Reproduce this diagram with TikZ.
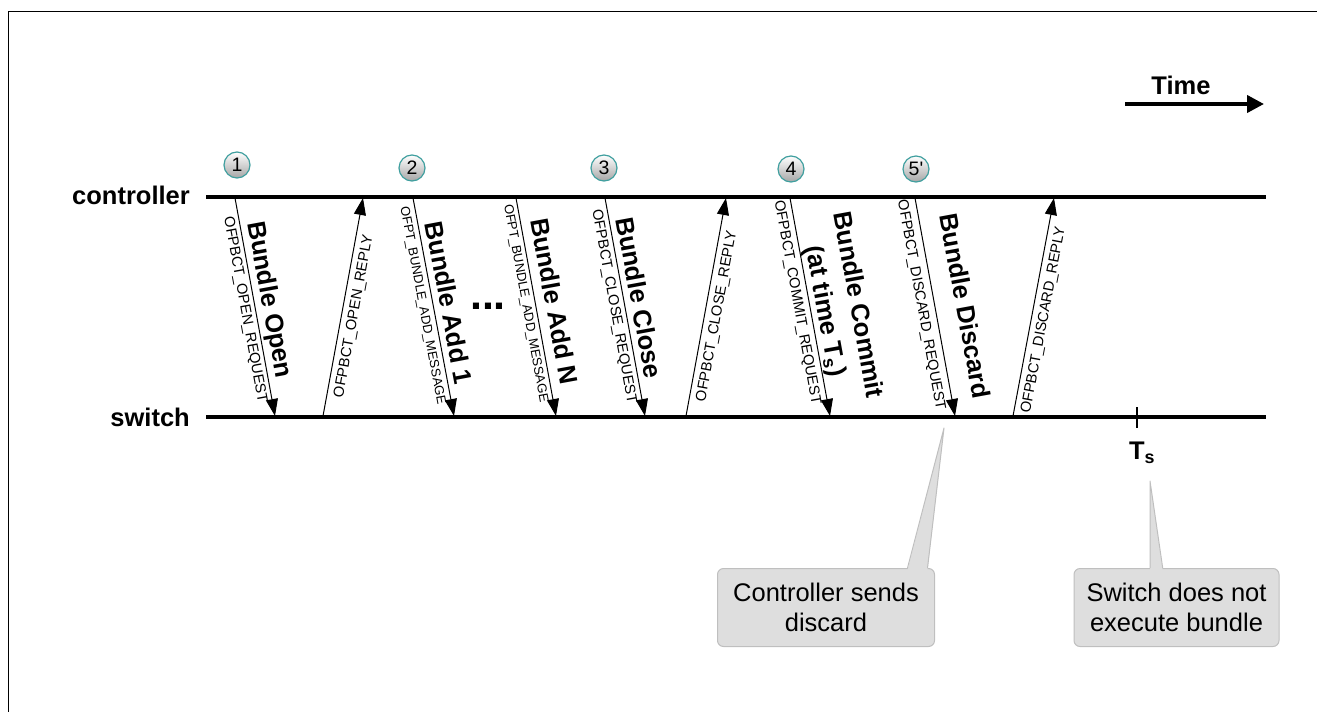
\documentclass[tikz,border=0pt]{standalone}
\usepackage{fontspec}
\setmainfont{Liberation Sans}
\usepackage{tikz}
\usetikzlibrary{
  arrows.meta,
  positioning
}

\begin{document}
\begin{tikzpicture}[
      x=1pt,y=-1pt,
      point/.style={coordinate},
      lifeline/.style={line width=4pt},
      party/.style={
         inner sep=0pt,
         font=\bfseries\fontsize{25.5}{30}\selectfont
      },
      step ball/.style={
         circle,
         minimum size=26pt,
         inner sep=0pt,
         line width=1.2pt,
         draw=teal!75!white,
         top color=white,
         bottom color=black!35,
         font=\fontsize{19.5}{20}\selectfont
      },
      >={Triangle[length=17pt,width=12pt]},
      tip/.style={->,line width=1pt},
      msg/.style={
         sloped,
         inner sep=1pt,
         font=\fontsize{14.7}{16}\selectfont
      },
      long msg/.style={
         msg,
         font=\fontsize{13}{15}\selectfont
      },
      big msg/.style={
         sloped,
         inner sep=1pt,
         text height=18pt,
         text depth=5pt,
         font=\bfseries\fontsize{25.5}{30}\selectfont
      },
      big block/.style={
         sloped,
         inner sep=1pt,
         align=center,
         font=\bfseries\fontsize{25.5}{33}\selectfont
      },
      callout/.style={
         rounded corners=6pt,
         fill=black!13,
         draw=black!25,
         line width=1pt,
         align=center,
         minimum height=78pt,
         font=\fontsize{25.5}{30}\selectfont
      },
      pointer fill/.style={fill=black!13},
      pointer line/.style={draw=black!25,line width=1pt,line join=round}
    ]
    \useasboundingbox (0,0) rectangle (1317,712);
    \draw[line width=1.2pt] (8.5,712) -- (8.5,11.5) -- (1317,11.5);

    % lifelines
    \node (c0) [point] at (206,197) {};
    \node (c10) [point] at (1266,197) {};
    \node (s0) [point] at (206,417) {};
    \node (s10) [point] at (1266,417) {};
    \draw[lifeline] (c0) -- (c10);
    \draw[lifeline] (s0) -- (s10);
    \node (ctrl) [party, left=16pt of c0, yshift=2pt] {controller};
    \node (sw) [party, left=16pt of s0] {switch};

    % time arrow
    \node (t0) [point] at (1125,104) {};
    \node (t1) [point] at (1264,104) {};
    \draw[line width=4pt, -{Triangle[length=17pt,width=17pt]}] (t0) -- (t1);
    \node (time) [party] at (1181,85) {Time};

    % steps
    \node (b1) [step ball] at (237,165) {1};
    \node (b2) [step ball] at (412,168) {2};
    \node (b3) [step ball] at (604,168) {3};
    \node (b4) [step ball] at (791,169) {4};
    \node (b5) [step ball] at (916,169) {5\textquotesingle};

    % message ends
    \node (c1) [point] at (235,198) {};  \node (s1) [point] at (275,416) {};
    \node (s2) [point] at (323,416) {};  \node (c2) [point] at (363,198) {};
    \node (c3) [point] at (413,198) {};  \node (s3) [point] at (454,416) {};
    \node (c4) [point] at (516,198) {};  \node (s4) [point] at (556,416) {};
    \node (c5) [point] at (605,198) {};  \node (s5) [point] at (645,416) {};
    \node (s6) [point] at (686,416) {};  \node (c6) [point] at (726,198) {};
    \node (c7) [point] at (790,198) {};  \node (s7) [point] at (830,416) {};
    \node (c8) [point] at (915,198) {};  \node (s8) [point] at (955,416) {};
    \node (s9) [point] at (1013,416) {}; \node (c9) [point] at (1054,198) {};

    % messages
    \draw[tip] (c1) -- (s1)
       node (m1) [msg, pos=.505, below, outer sep=3pt] {OFPBCT\_OPEN\_REQUEST}
       node (l1) [big msg, pos=.48, above, outer sep=2pt] {Bundle Open};
    \draw[tip] (s2) -- (c2)
       node (m2) [msg, pos=.467, below, outer sep=5pt] {OFPBCT\_OPEN\_REPLY};
    \draw[tip] (c3) -- (s3)
       node (m3) [long msg, pos=.485, below, outer sep=4pt] {OFPT\_BUNDLE\_ADD\_MESSAGE}
       node (l3) [big msg, pos=.495, above, outer sep=1pt] {Bundle Add 1};
    \node (dots) [font=\bfseries\fontsize{43}{43}\selectfont] at (488,306) {...};
    \draw[tip] (c4) -- (s4)
       node (m4) [long msg, pos=.475, below, outer sep=3pt] {OFPT\_BUNDLE\_ADD\_MESSAGE}
       node (l4) [big msg, pos=.49, above, outer sep=4pt] {Bundle Add N};
    \draw[tip] (c5) -- (s5)
       node (m5) [msg, pos=.49, below, outer sep=3.5pt] {OFPBCT\_CLOSE\_REQUEST}
       node (l5) [big msg, pos=.47, above, outer sep=1pt] {Bundle Close};
    \draw[tip] (s6) -- (c6)
       node (m6) [msg, pos=.467, below, outer sep=5pt] {OFPBCT\_CLOSE\_REPLY};
    \draw[tip] (c7) -- (s7)
       node (m7) [msg, pos=.47, below, outer sep=4.5pt] {OFPBCT\_COMMIT\_REQUEST}
       node (l7) [big block, pos=.53, above, outer sep=0.5pt] {Bundle Commit\\(at time T\textsubscript{s})};
    \draw[tip] (c8) -- (s8)
       node (m8) [msg, pos=.48, below, outer sep=6pt] {OFPBCT\_DISCARD\_REQUEST}
       node (l8) [big msg, pos=.52, above, outer sep=15pt] {Bundle Discard};
    \draw[tip] (s9) -- (c9)
       node (m9) [msg, pos=.45, below, outer sep=5pt] {OFPBCT\_DISCARD\_REPLY};

    % commit time
    \node (tick) [point] at (1137,407) {};
    \node (tick end) [point] at (1137,428) {};
    \draw[line width=1.2pt] (tick) -- (tick end);
    \node (ts) [party] at (1142,453) {T\textsubscript{s}};

    % notes
    \node (discard note) [callout, minimum width=217pt] at (826,607.5) {Controller sends\\discard};
    \node (discard tip) [point] at (944,428) {};
    \fill[pointer fill] ([xshift=81.5pt,yshift=-2pt]discard note.north) -- (discard tip)
       -- ([xshift=101.5pt,yshift=-2pt]discard note.north) -- cycle;
    \draw[pointer line] ([xshift=81.5pt]discard note.north) -- (discard tip)
       -- ([xshift=101.5pt]discard note.north);

    \node (skip note) [callout, minimum width=205pt] at (1176.5,607.5) {Switch does not\\execute bundle};
    \node (skip tip) [point] at (1150,481) {};
    \fill[pointer fill] ([xshift=-26.5pt,yshift=-2pt]skip note.north) -- (skip tip)
       -- ([xshift=-13.8pt,yshift=-2pt]skip note.north) -- cycle;
    \draw[pointer line] ([xshift=-26.5pt]skip note.north) -- (skip tip)
       -- ([xshift=-13.8pt]skip note.north);
\end{tikzpicture}
\end{document}
